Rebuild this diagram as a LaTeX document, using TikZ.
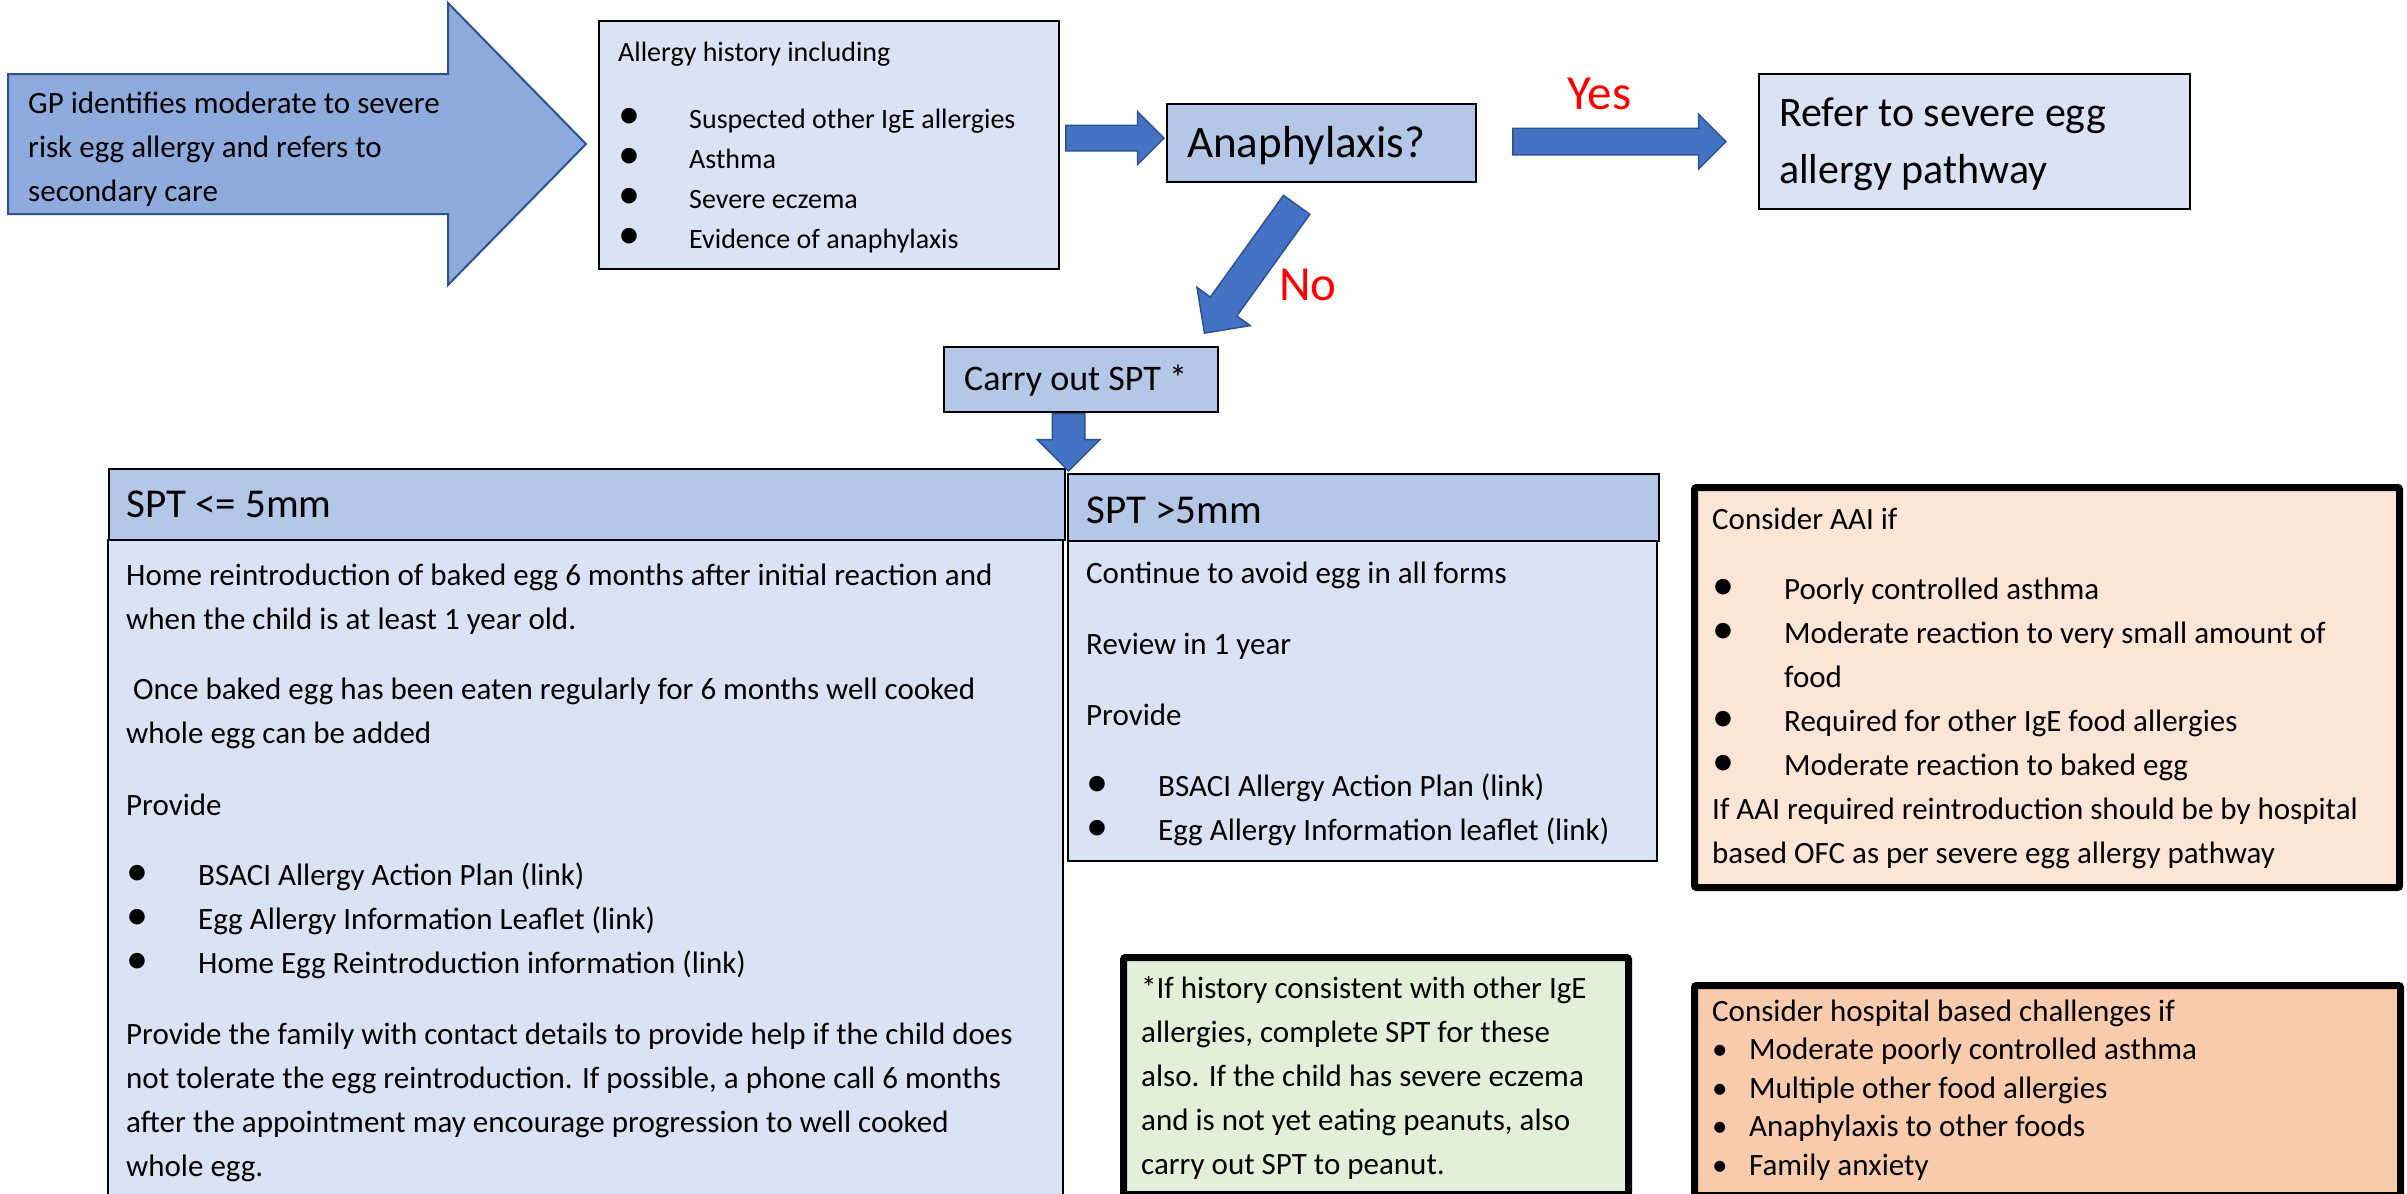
\documentclass[tikz,border=0pt]{standalone}
\usepackage{fontspec}
\setmainfont{Carlito}
\usetikzlibrary{shapes.arrows, calc}

\definecolor{azzurro}{HTML}{DAE3F3}
\definecolor{testblu}{HTML}{B4C7E7}
\definecolor{gpblu}{HTML}{8FAADC}
\definecolor{frecblu}{HTML}{4472C4}
\definecolor{bordoblu}{HTML}{2F528F}
\definecolor{pesca}{HTML}{FBE5D6}
\definecolor{pescascura}{HTML}{F8CBAD}
\definecolor{verdino}{HTML}{E2F0D9}

% punto elenco stile Word e punto piccolo
\newcommand{\punto}[1][72pt]{\makebox[#1][l]{\fontsize{44}{44}\selectfont\textbullet}}
\newcommand{\pallino}{\makebox[37pt][l]{\textbullet}}

\begin{document}
\begin{tikzpicture}[
    x=1pt, y=-1pt,
    scatola/.style={draw=black, line width=2.2pt, anchor=north west, inner sep=0pt, fill=azzurro},
    testata/.style={scatola, fill=testblu},
    spessa/.style={draw=black, line width=7pt, rounded corners=2pt, anchor=north west, inner sep=0pt},
    testo/.style={anchor=base west, inner sep=0pt, align=left, font=\fontsize{31}{44}\selectfont},
    freccia/.style={single arrow, single arrow head indent=0pt, inner xsep=0pt, anchor=tail, fill=frecblu, draw=bordoblu, line width=1.5pt},
    risposta/.style={anchor=base west, inner sep=0pt, text=red, font=\fontsize{49}{56}\selectfont}
]

    % 0. Sfondo e dimensioni
    \path[fill=white] (0,0) rectangle (2407,1194);
    \useasboundingbox (0,0) rectangle (2407,1194);

    % 1. Freccia GP (testo ancorato sulla base dell'ultima riga)
    \draw[fill=gpblu, draw=bordoblu, line width=2pt] (8,74) -- (448,74) -- (448,3) -- (586,144)
        -- (448,285) -- (448,214) -- (8,214) -- cycle;
    \node[testo] (gptxt) at (28,201) {GP identifies moderate to severe\\ risk egg allergy and refers to\\ secondary care};

    % 2. Riga in alto
    \node[scatola, minimum width=460pt, minimum height=248pt] (storia) at (598,20) {};
    \node[testo, font=\fontsize{28}{40}\selectfont] (storiatxt) at (618,248) {Allergy history including\\[27pt]
        \punto[71pt]Suspected other IgE allergies\\
        \punto[71pt]Asthma\\
        \punto[71pt]Severe eczema\\
        \punto[71pt]Evidence of anaphylaxis};

    \node[testata, minimum width=309pt, minimum height=78pt] (anafilassi) at (1166,103) {};
    \node[testo, font=\fontsize{45}{50}\selectfont] (anafilassitxt) at (1187,157) {Anaphylaxis?};

    \node[scatola, minimum width=431pt, minimum height=135pt] (grave) at (1758,73) {};
    \node[testo, font=\fontsize{42}{57}\selectfont] (gravetxt) at (1779,183) {Refer to severe egg\\ allergy pathway};

    \node[testata, minimum width=274pt, minimum height=65pt] (spt) at (943,346) {};
    \node[testo, font=\fontsize{36}{40}\selectfont] (spttxt) at (964,390) {Carry out SPT *};

    % 3. Colonne SPT
    \node[scatola, minimum width=955pt, minimum height=700pt] (bassocorpo) at (107,539) {};
    \node[testata, minimum width=956pt, minimum height=71pt] (basso) at (108,468) {};
    \node[testo, font=\fontsize{41}{44}\selectfont] (bassotxt) at (126,517) {SPT <= 5mm};
    \node[testo] (bassocorpotxt) at (126,1176) {Home reintroduction of baked egg 6 months after initial reaction and\\
        when the child is at least 1 year old.\\[26pt]
        \hspace*{7pt}Once baked egg has been eaten regularly for 6 months well cooked\\
        whole egg can be added\\[28pt]
        Provide\\[26pt]
        \punto BSACI Allergy Action Plan (link)\\
        \punto Egg Allergy Information Leaflet (link)\\
        \punto Home Egg Reintroduction information (link)\\[27pt]
        Provide the family with contact details to provide help if the child does\\
        not tolerate the egg reintroduction. If possible, a phone call 6 months\\
        after the appointment may encourage progression to well cooked\\
        whole egg.};

    \node[scatola, minimum width=589pt, minimum height=320pt] (altocorpo) at (1067,540) {};
    \node[testata, minimum width=591pt, minimum height=67pt] (alto) at (1067,473) {};
    \node[testo, font=\fontsize{41}{44}\selectfont] (altotxt) at (1086,523) {SPT >5mm};
    \node[testo] (altocorpotxt) at (1086,840) {Continue to avoid egg in all forms\\[27pt]
        Review in 1 year\\[27pt]
        Provide\\[27pt]
        \punto BSACI Allergy Action Plan (link)\\
        \punto Egg Allergy Information leaflet (link)};

    % 4. Riquadri a destra e nota
    \node[spessa, fill=pesca, minimum width=705pt, minimum height=400pt] (aai) at (1691,484) {};
    \node[testo] (aaitxt) at (1712,863) {Consider AAI if\\[26pt]
        \punto Poorly controlled asthma\\
        \punto Moderate reaction to very small amount of\\
        \hspace*{72pt}food\\
        \punto Required for other IgE food allergies\\
        \punto Moderate reaction to baked egg\\
        If AAI required reintroduction should be by hospital\\
        based OFC as per severe egg allergy pathway};

    \node[spessa, fill=verdino, minimum width=505pt, minimum height=237pt] (nota) at (1120,954) {};
    \node[testo] (notatxt) at (1141,1174) {*If history consistent with other IgE\\
        allergies, complete SPT for these\\
        also. If the child has severe eczema\\
        and is not yet eating peanuts, also\\
        carry out SPT to peanut.};

    \node[spessa, fill=pescascura, minimum width=706pt, minimum height=210pt] (ospedale) at (1691,982) {};
    \node[testo, font=\fontsize{31}{38.5}\selectfont] (ospedaletxt) at (1712,1175) {Consider hospital based challenges if\\
        \pallino Moderate poorly controlled asthma\\
        \pallino Multiple other food allergies\\
        \pallino Anaphylaxis to other foods\\
        \pallino Family anxiety};

    % 5. Frecce di collegamento (coda agganciata ai nodi)
    \node[freccia, minimum height=98pt, inner ysep=12pt, single arrow head extend=13.5pt] (f1) at ($(storia.east)+(5,-7)$) {};
    \node[freccia, minimum height=213pt, inner ysep=12.5pt, single arrow head extend=14pt] (f2) at ($(anafilassi.east)+(35,-1.5)$) {};
    \node[freccia, minimum height=158pt, inner ysep=15.5pt, single arrow head extend=16.5pt, rotate=234.3] (f3) at ($(anafilassi.south)+(-24.5,21)$) {};
    \node[freccia, minimum height=57pt, inner ysep=15.5pt, single arrow head extend=15pt, rotate=270] (f4) at ($(spt.south)+(-12.5,0)$) {};

    \node[risposta] (si) at (1567,109) {Yes};
    \node[risposta] (no) at (1279,300) {No};

\end{tikzpicture}
\end{document}
